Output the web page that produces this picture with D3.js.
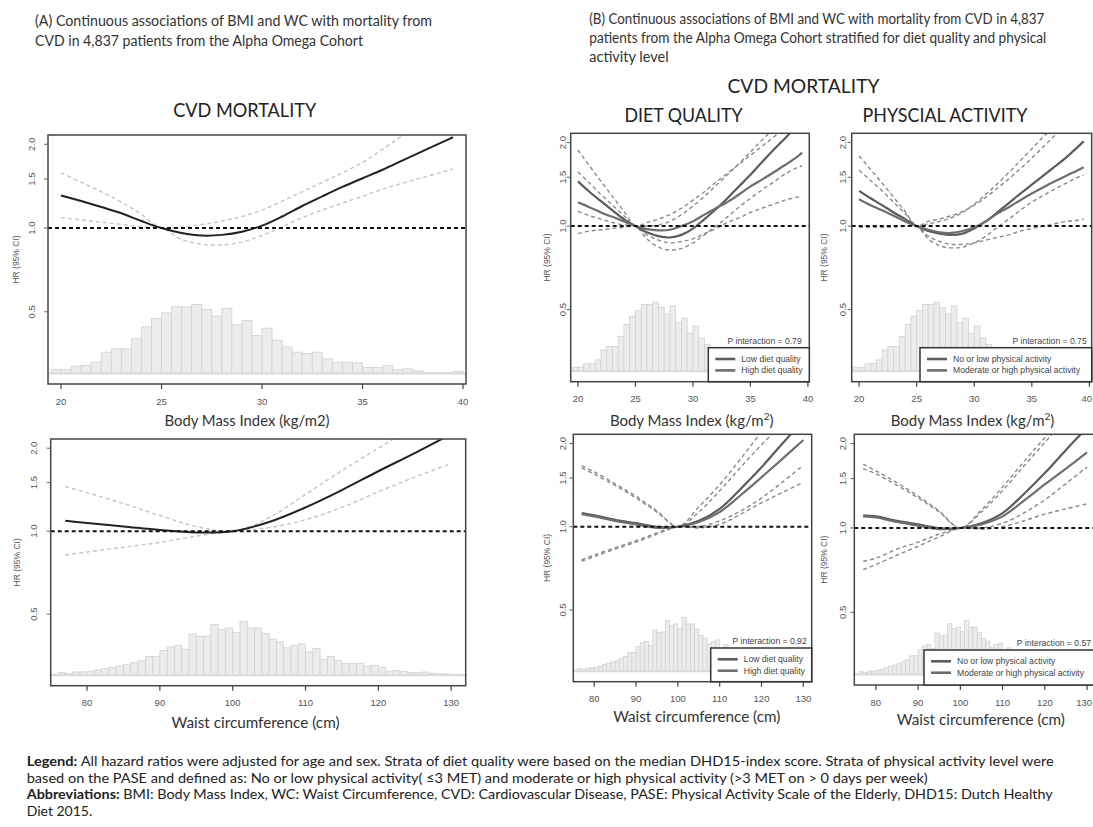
<!DOCTYPE html>
<html><head><meta charset="utf-8">
<script src="https://cdn.jsdelivr.net/npm/d3@7"></script>
<style>body{margin:0;background:#fff}</style>
</head><body><svg id="c" width="1093" height="827"></svg>
<script>
// ---------------- DATA ----------------
const bmiTicks = [20, 25, 30, 35, 40];
const wcTicks = [80, 90, 100, 110, 120, 130];
const hrTicks = [0.5, 1.0, 1.5, 2.0];
const hrTickLabels = ["0.5", "1.0", "1.5", "2.0"];

// histogram of BMI (bins of 0.5 kg/m2 starting at 19.5), relative counts
const bmiBinStart = d3.range(41).map(i => 19.5 + 0.5 * i);
const bmiCounts = [12,12,22,24,34,64,74,74,104,140,165,182,200,200,207,192,172,196,146,159,114,136,100,80,64,60,64,44,34,34,32,18,18,24,12,14,8,2,2,2,6];
// histogram of WC (bins of 1 cm starting at 75), relative counts
const wcBinStart = d3.range(57).map(i => 75 + i);
const wcCounts = [3,8,6,10,10,12,16,20,24,28,33,38,44,56,56,74,85,90,78,124,116,118,152,138,142,128,162,142,142,126,108,100,82,90,94,70,80,48,56,44,36,36,36,28,30,24,12,14,12,8,8,10,6,4,4,3,3];

const bmiGrid = [20,21,22,23,24,25,26,27,28,29,30,31,32,33,34,35,36,37,38,39,39.5];
const wcGrid = [77,80,85,90,95,100,105,110,115,120,125,130];

// (A) BMI overall
const aBmiHR = [1.31,1.25,1.19,1.13,1.06,1.0,0.96,0.94,0.945,0.97,1.02,1.10,1.20,1.30,1.405,1.51,1.62,1.75,1.89,2.04,2.12];
const aBmiLo = [1.09,1.07,1.05,1.03,1.01,1.0,0.91,0.875,0.87,0.89,0.94,1.01,1.09,1.16,1.23,1.30,1.38,1.45,1.52,1.59,1.63];
const aBmiHi = [1.58,1.46,1.35,1.24,1.12,1.0,1.01,1.03,1.06,1.10,1.16,1.25,1.35,1.46,1.58,1.72,1.92,2.15,2.4,2.65,2.8];
// (A) WC overall
const aWcHR = [1.09,1.07,1.04,1.01,0.99,1.0,1.08,1.22,1.41,1.65,1.92,2.25];
const aWcLo = [0.82,0.84,0.875,0.91,0.96,1.0,1.03,1.10,1.22,1.39,1.57,1.76];
const aWcHi = [1.45,1.38,1.26,1.14,1.04,1.0,1.12,1.36,1.66,2.0,2.4,2.8];

// (B) BMI by diet quality
const dBmiLowHR = [1.45,1.33,1.23,1.14,1.06,1.0,0.95,0.92,0.91,0.93,0.98,1.06,1.15,1.26,1.39,1.53,1.70,1.88,2.07,2.28,2.38];
const dBmiLowLo = [1.13,1.09,1.06,1.03,1.01,1.0,0.9,0.84,0.82,0.83,0.87,0.93,1.0,1.08,1.17,1.26,1.35,1.44,1.54,1.62,1.65];
const dBmiLowHi = [1.88,1.65,1.45,1.28,1.13,1.0,1.0,1.01,1.04,1.10,1.18,1.28,1.40,1.53,1.68,1.85,2.04,2.25,2.5,2.75,2.9];
const dBmiHighHR = [1.22,1.17,1.12,1.08,1.04,1.0,0.975,0.965,0.97,1.0,1.04,1.10,1.16,1.22,1.30,1.39,1.47,1.56,1.66,1.77,1.84];
const dBmiHighLo = [0.94,0.96,0.97,0.98,0.99,1.0,0.93,0.89,0.87,0.88,0.9,0.94,0.98,1.03,1.07,1.12,1.16,1.20,1.24,1.27,1.28];
const dBmiHighHi = [1.57,1.43,1.30,1.19,1.09,1.0,1.03,1.06,1.10,1.16,1.24,1.33,1.44,1.55,1.67,1.80,1.94,2.09,2.25,2.42,2.5];
// (B) BMI by physical activity
const pBmiLowHR = [1.34,1.26,1.19,1.12,1.06,1.0,0.96,0.94,0.93,0.94,0.98,1.04,1.12,1.21,1.31,1.41,1.52,1.64,1.77,1.93,2.02];
const pBmiLowLo = [1.0,1.0,1.0,1.0,1.0,1.0,0.9,0.85,0.835,0.84,0.87,0.92,0.99,1.06,1.14,1.22,1.29,1.36,1.43,1.50,1.53];
const pBmiLowHi = [1.79,1.60,1.43,1.27,1.13,1.0,1.02,1.04,1.07,1.12,1.2,1.3,1.42,1.56,1.72,1.90,2.1,2.3,2.55,2.8,2.95];
const pBmiHighHR = [1.25,1.19,1.14,1.09,1.04,1.0,0.97,0.95,0.945,0.96,0.99,1.04,1.11,1.17,1.24,1.31,1.38,1.45,1.52,1.59,1.63];
const pBmiHighLo = [0.99,0.99,0.99,0.99,1.0,1.0,0.92,0.88,0.86,0.86,0.87,0.89,0.91,0.93,0.96,0.98,1.0,1.02,1.04,1.05,1.06];
const pBmiHighHi = [1.59,1.46,1.34,1.22,1.11,1.0,1.04,1.06,1.09,1.13,1.19,1.27,1.37,1.48,1.61,1.76,1.93,2.12,2.3,2.5,2.6];

// (B) WC by diet quality
const dWcLowHR = [1.12,1.10,1.06,1.03,1.0,1.0,1.05,1.16,1.37,1.64,2.0,2.42];
const dWcLowLo = [0.76,0.79,0.84,0.89,0.95,1.0,1.0,1.05,1.14,1.27,1.45,1.67];
const dWcLowHi = [1.66,1.58,1.43,1.29,1.14,1.0,1.18,1.42,1.76,2.2,2.7,3.3];
const dWcHighHR = [1.11,1.09,1.05,1.02,0.99,1.0,1.04,1.13,1.30,1.51,1.76,2.06];
const dWcHighLo = [0.75,0.78,0.83,0.88,0.94,1.0,0.99,1.02,1.11,1.22,1.33,1.45];
const dWcHighHi = [1.63,1.55,1.41,1.27,1.13,1.0,1.13,1.35,1.64,1.98,2.35,2.8];
// (B) WC by physical activity
const pWcLowHR = [1.11,1.10,1.06,1.03,1.0,1.0,1.04,1.13,1.32,1.57,1.90,2.28];
const pWcLowLo = [0.76,0.78,0.84,0.89,0.95,1.0,1.0,1.04,1.13,1.26,1.44,1.65];
const pWcLowHi = [1.69,1.6,1.45,1.3,1.15,1.0,1.16,1.40,1.72,2.1,2.55,3.0];
const pWcHighHR = [1.10,1.09,1.05,1.02,0.99,1.0,1.03,1.10,1.25,1.43,1.63,1.86];
const pWcHighLo = [0.71,0.74,0.8,0.86,0.93,1.0,0.99,1.01,1.06,1.12,1.17,1.22];
const pWcHighHi = [1.63,1.56,1.42,1.28,1.14,1.0,1.14,1.36,1.66,2.02,2.45,2.9];

const dietLegend = ["Low diet quality", "High diet quality"];
const paLegend = ["No or low physical activity", "Moderate or high physical activity"];
const pInteraction = ["0.79", "0.75", "0.92", "0.57"];

// ---------------- DRAWING ----------------
const svg = d3.select('#c');
const FT = "Lato, 'Open Sans', sans-serif";
const FA = "'Liberation Sans', Arial, sans-serif";
const HR_DOMAIN = [0.275, 2.16];
const HIST_BASE = 0.3;
const PAGE_W = 1093;

function txt(x, y, s, size, opts = {}) {
  const t = svg.append('text').attr('x', x).attr('y', y).text(s)
    .attr('font-family', opts.family || FT).attr('font-size', size)
    .attr('fill', opts.fill || '#333').attr('text-anchor', opts.anchor || 'start');
  if (opts.len) t.attr('textLength', opts.len).attr('lengthAdjust', 'spacingAndGlyphs');
  if (opts.weight) t.attr('font-weight', opts.weight);
  return t;
}

const panels = [
  {x0:48, x1:466, y0:135, y1:384, xd:[19.35,40.15], xt:bmiTicks, grid:bmiGrid, bins:bmiBinStart, bw:0.5, counts:bmiCounts,
   series:[[aBmiHR,aBmiLo,aBmiHi]], mode:'A', ylabX:19, ytx:35, xly:405},
  {x0:50.7, x1:465.7, y0:439, y1:685.7, xd:[75,132], xt:wcTicks, grid:wcGrid, bins:wcBinStart, bw:1, counts:wcCounts,
   series:[[aWcHR,aWcLo,aWcHi]], mode:'A', ylabX:20, ytx:37, xly:706},
  {x0:570.7, x1:809.3, y0:133.3, y1:381.7, xd:[19.37,40.12], xt:bmiTicks, grid:bmiGrid, bins:bmiBinStart, bw:0.5, counts:bmiCounts,
   series:[[dBmiLowHR,dBmiLowLo,dBmiLowHi],[dBmiHighHR,dBmiHighLo,dBmiHighHi]], mode:'B', ylabX:550, ytx:566, xly:402,
   leg:{x:708.3, y:347.7, labels:dietLegend, p:pInteraction[0], pr:801.7}},
  {x0:851.7, x1:1091.7, y0:133.3, y1:381.7, xd:[19.36,40.2], xt:bmiTicks, grid:bmiGrid, bins:bmiBinStart, bw:0.5, counts:bmiCounts,
   series:[[pBmiLowHR,pBmiLowLo,pBmiLowHi],[pBmiHighHR,pBmiHighLo,pBmiHighHi]], mode:'B', ylabX:827, ytx:846, xly:402,
   leg:{x:920, y:347.7, labels:paLegend, p:pInteraction[1], pr:1086.7}},
  {x0:573.3, x1:811.7, y0:434.3, y1:681.7, xd:[75,132], xt:wcTicks, grid:wcGrid, bins:wcBinStart, bw:1, counts:wcCounts,
   series:[[dWcLowHR,dWcLowLo,dWcLowHi],[dWcHighHR,dWcHighLo,dWcHighHi]], mode:'B', ylabX:550, ytx:566, xly:702,
   leg:{x:710.7, y:648, labels:dietLegend, p:pInteraction[2], pr:806.7}},
  {x0:854.3, x1:1095.5, y0:434.3, y1:685, xd:[74.9,132], xt:wcTicks, grid:wcGrid, bins:wcBinStart, bw:1, counts:wcCounts,
   series:[[pWcLowHR,pWcLowLo,pWcLowHi],[pWcHighHR,pWcHighLo,pWcHighHi]], mode:'B', ylabX:827, ytx:846, xly:706,
   leg:{x:924, y:650, labels:paLegend, p:pInteraction[3], pr:1091}}
];

panels.forEach((p, pi) => {
  const x = d3.scaleLinear().domain(p.xd).range([p.x0, p.x1]);
  const y = d3.scaleLog().domain(HR_DOMAIN).range([p.y1, p.y0]);
  const hy = d3.scaleLinear().domain([0, 210]).range([0, 70]);
  const g = svg.append('g');
  const cid = 'clip' + pi;
  g.append('clipPath').attr('id', cid).append('rect')
    .attr('x', p.x0).attr('y', p.y0).attr('width', p.x1 - p.x0).attr('height', p.y1 - p.y0);
  const base = y(HIST_BASE);

  // histogram
  const hg = g.append('g').attr('clip-path', `url(#${cid})`);
  hg.selectAll('rect.h').data(p.counts).join('rect')
    .attr('x', (d, i) => x(p.bins[i])).attr('width', (d, i) => x(p.bins[i] + p.bw) - x(p.bins[i]))
    .attr('y', d => base - hy(d)).attr('height', d => hy(d))
    .attr('fill', '#ececec').attr('stroke', '#d2d2d2').attr('stroke-width', 0.8);
  hg.append('line').attr('x1', p.x0).attr('x2', p.x1).attr('y1', base).attr('y2', base)
    .attr('stroke', '#dadada').attr('stroke-width', 2);

  // curves
  const cg = g.append('g').attr('clip-path', `url(#${cid})`);
  const line = arr => d3.line().x((d, i) => x(p.grid[i])).y(d => y(d)).curve(d3.curveCatmullRom.alpha(0.5))(arr);
  p.series.forEach((s, si) => {
    const ciCol = p.mode === 'A' ? '#c4c4c4' : '#8a8a8a';
    [s[1], s[2]].forEach(a => cg.append('path').attr('d', line(a)).attr('fill', 'none')
      .attr('stroke', ciCol).attr('stroke-width', 1.4).attr('stroke-dasharray', '4,3'));
  });
  p.series.forEach((s, si) => {
    const col = p.mode === 'A' ? '#222' : (si === 0 ? '#5c5c5c' : '#6e6e6e');
    cg.append('path').attr('d', line(s[0])).attr('fill', 'none')
      .attr('stroke', col).attr('stroke-width', p.mode === 'A' ? 2 : 2.2);
  });
  // reference line
  cg.append('line').attr('x1', p.x0).attr('x2', p.x1).attr('y1', y(1)).attr('y2', y(1))
    .attr('stroke', '#111').attr('stroke-width', 2).attr('stroke-dasharray', '4,3');

  // box
  g.append('rect').attr('x', p.x0).attr('y', p.y0).attr('width', p.x1 - p.x0).attr('height', p.y1 - p.y0)
    .attr('fill', 'none').attr('stroke', '#444').attr('stroke-width', 1.5);

  // x axis ticks
  p.xt.forEach(t => {
    g.append('line').attr('x1', x(t)).attr('x2', x(t)).attr('y1', p.y1).attr('y2', p.y1 + 5)
      .attr('stroke', '#444').attr('stroke-width', 1.2);
    const lab = g.append('text').attr('x', x(t)).attr('y', p.xly).text(t)
      .attr('font-family', FA).attr('font-size', 9.5).attr('fill', '#555').attr('text-anchor', 'middle');
    // keep edge labels inside the page
    const w = lab.node().getComputedTextLength();
    if (x(t) + w / 2 > PAGE_W - 1) lab.attr('text-anchor', 'end').attr('x', PAGE_W - 1);
  });
  // y axis ticks
  hrTicks.forEach((t, i) => {
    g.append('line').attr('x1', p.x0 - 4).attr('x2', p.x0).attr('y1', y(t)).attr('y2', y(t))
      .attr('stroke', '#666').attr('stroke-width', 1);
    g.append('text').attr('transform', `translate(${p.ytx},${y(t)}) rotate(-90)`).text(hrTickLabels[i])
      .attr('font-family', FA).attr('font-size', 9.5).attr('fill', '#555').attr('text-anchor', 'middle');
  });
  g.append('text').attr('transform', `translate(${p.ylabX},${(p.y0 + p.y1) / 2}) rotate(-90)`).text('HR (95% CI)')
    .attr('font-family', FA).attr('font-size', 8.5).attr('fill', '#555').attr('text-anchor', 'middle');

  // legend
  if (p.leg) {
    const L = p.leg;
    g.append('rect').attr('x', L.x).attr('y', L.y).attr('width', p.x1 - L.x).attr('height', p.y1 - L.y)
      .attr('fill', '#fff').attr('stroke', '#333').attr('stroke-width', 1.5);
    L.labels.forEach((lab, i) => {
      const yy = L.y + 11.3 + i * 11.4;
      g.append('line').attr('x1', L.x + 7).attr('x2', L.x + 27).attr('y1', yy).attr('y2', yy)
        .attr('stroke', i === 0 ? '#5c5c5c' : '#6e6e6e').attr('stroke-width', 2.6);
      g.append('text').attr('x', L.x + 33).attr('y', yy + 3).text(lab)
        .attr('font-family', FA).attr('font-size', 8.6).attr('fill', '#444');
    });
    g.append('text').attr('x', L.pr).attr('y', L.y - 4).text('P interaction = ' + L.p)
      .attr('font-family', FA).attr('font-size', 8.6).attr('fill', '#444').attr('text-anchor', 'end');
  }
});

// ---------------- TEXT ----------------
txt(35, 26, "(A) Continuous associations of BMI and WC with mortality from", 14.5, {len: 397});
txt(35, 46, "CVD in 4,837 patients from the Alpha Omega Cohort", 14.5, {len: 328});
txt(589.3, 23.5, "(B) Continuous associations of BMI and WC with mortality from CVD in 4,837", 14.5, {len: 455});
txt(589.3, 43, "patients from the Alpha Omega Cohort stratified for diet quality and physical", 14.5, {len: 457});
txt(589.3, 62, "activity level", 14.5);

txt(244.7, 116.5, "CVD MORTALITY", 20, {anchor: 'middle', len: 143, fill: '#222'});
txt(803.5, 93, "CVD MORTALITY", 20, {anchor: 'middle', len: 152, fill: '#222'});
txt(683.5, 121.7, "DIET QUALITY", 20, {anchor: 'middle', len: 118, fill: '#222'});
txt(945, 121.7, "PHYSCIAL ACTIVITY", 20, {anchor: 'middle', len: 165, fill: '#222'});

txt(247, 426, "Body Mass Index (kg/m2)", 15, {anchor: 'middle', len: 165});
txt(255.5, 728, "Waist circumference (cm)", 15.5, {anchor: 'middle', len: 168});
txt(696.7, 722, "Waist circumference (cm)", 15.5, {anchor: 'middle', len: 167});
txt(980.8, 725, "Waist circumference (cm)", 15.5, {anchor: 'middle', len: 168});
[[691.7, 425.5], [972.5, 425.5]].forEach(([cx, cy]) => {
  const t = svg.append('text').attr('x', cx).attr('y', cy).attr('text-anchor', 'middle')
    .attr('font-family', FT).attr('font-size', 15).attr('fill', '#333');
  t.append('tspan').text('Body Mass Index (kg/m');
  t.append('tspan').text('2').attr('font-size', 10).attr('dy', -6);
  t.append('tspan').text(')').attr('dy', 6);
});

// footnote
function rich(x, y, parts, len) {
  const t = svg.append('text').attr('x', x).attr('y', y).attr('font-family', FT)
    .attr('font-size', 14).attr('fill', '#222');
  parts.forEach(([s, b]) => t.append('tspan').text(s).attr('font-weight', b ? 700 : 400));
  if (len) t.attr('textLength', len).attr('lengthAdjust', 'spacingAndGlyphs');
}
rich(26.7, 766, [["Legend:", true], [" All hazard ratios were adjusted for age and sex. Strata of diet quality were based on the median DHD15-index score. Strata of physical activity level were", false]], 1027);
rich(26.7, 782.5, [["based on the PASE and defined as: No or low physical activity( \u22643 MET) and moderate or high physical activity (>3 MET on > 0 days per week)", false]], 901);
rich(26.7, 799, [["Abbreviations:", true], [" BMI: Body Mass Index, WC: Waist Circumference, CVD: Cardiovascular Disease, PASE: Physical Activity Scale of the Elderly, DHD15: Dutch Healthy", false]], 1026);
rich(26.7, 816, [["Diet 2015.", false]]);
</script>
</body></html>
